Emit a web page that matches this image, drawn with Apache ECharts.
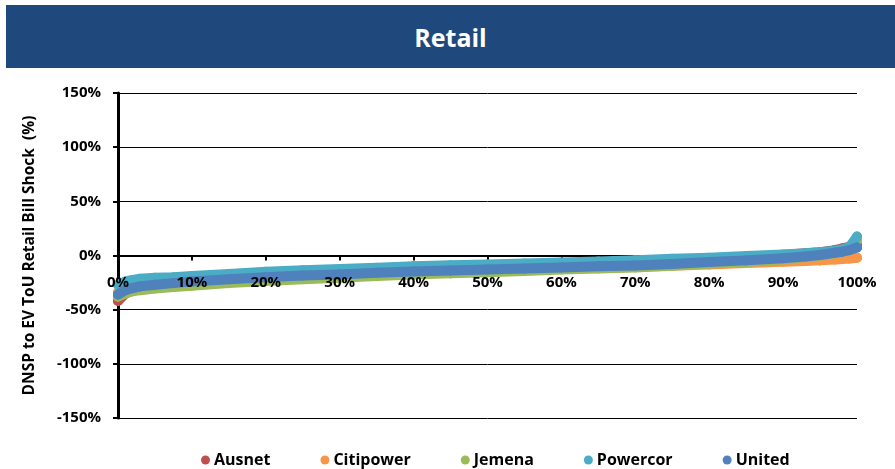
<!DOCTYPE html>
<html>
<head>
<meta charset="utf-8">
<script src="https://cdn.jsdelivr.net/npm/echarts@6/dist/echarts.min.js"></script>
<style>
  html, body { margin: 0; padding: 0; background: #ffffff; }
  #banner {
    position: absolute; left: 6px; top: 5px; width: 889px; height: 63px;
    background: #1f497d; color: #ffffff;
    font: bold 25px "Open Sans", sans-serif;
    display: flex; align-items: center; justify-content: center;
  }
  #chart { position: absolute; left: 0; top: 0; width: 895px; height: 469px; }
</style>
</head>
<body>
<div id="chart"></div>
<div id="banner">Retail</div>
<script>
// percentile of customers (x) and bill shock in % (y)
const pct = [0, 1, 2, 3, 5, 7.5, 10, 15, 20, 25, 30, 35, 40, 45, 50, 55, 60, 65, 70, 75, 80, 85, 90, 93, 95, 97, 98, 99, 100];

const ausnet = [-42, -35, -32, -30, -28, -26.5, -25, -23, -21, -19.5, -18, -16.5, -15.5, -14.5, -13.5, -12.5, -11.5, -10.5, -9, -7, -4.5, -2, 0.5, 2, 3, 5, 6.5, 8, 10];
const citipower = [-34, -31, -29.5, -28.5, -27, -26, -25, -23, -21.5, -20, -19, -17.5, -16, -15, -14, -13, -12, -11, -10.5, -9.5, -8.3, -7, -5.8, -5, -4.5, -3.8, -3.3, -2.7, -2];
const jemena = [-38, -35, -33, -32, -30.5, -29, -28, -25.5, -23.5, -22, -20.5, -19, -17.5, -16.5, -15.5, -14.2, -13, -12, -11, -9.5, -7.5, -6, -3.5, -1.5, 0, 2, 3.5, 7, 13.5];
const powercor = [-27, -24, -22.5, -21.5, -20.5, -20, -19, -17, -15, -13.5, -12.5, -11.2, -10, -9, -8.2, -7.3, -6.5, -5.5, -4.3, -3, -2, -0.5, 1, 2, 3, 4.5, 5.5, 8, 17.5];
const united = [-36, -32, -30, -28.5, -27, -25.5, -24, -22, -20, -18.5, -17.5, -16, -14.7, -13.8, -13, -12, -11, -10, -9.2, -7.8, -6, -4.5, -2.5, -1, 0.5, 2.5, 3.5, 5, 7.4];

const xTicks = { min: 0, max: 100, interval: 10 };
const yTicks = { min: -150, max: 150, interval: 50 };

const names = ["Ausnet", "Citipower", "Jemena", "Powercor", "United"];
const values = [ausnet, citipower, jemena, powercor, united];
const colors = ["#c0504d", "#f79646", "#9bbb59", "#4bacc6", "#4f81bd"];

const font = "Open Sans";
const gridTop = 93;
const gridBottom = 418;
// the x axis sits on the 0% line, halfway down the plot
const zeroOffset = -(gridBottom - gridTop) * (yTicks.max / (yTicks.max - yTicks.min));

const labelStyle = {
  formatter: "{value}%",
  color: "#000",
  fontFamily: font,
  fontWeight: "bold",
  fontSize: 15,
};

const chart = echarts.init(document.getElementById("chart"));

chart.setOption({
  animation: false,
  grid: { left: 118, right: 38, top: gridTop, bottom: 469 - gridBottom },
  legend: {
    top: 447,
    left: 196,
    itemGap: 50,
    itemWidth: 9,
    itemHeight: 9,
    icon: "circle",
    textStyle: { fontFamily: font, fontWeight: "bold", fontSize: 16, color: "#000", padding: [0, 0, 0, -1] },
    data: names,
  },
  xAxis: [
    {
      // axis line and ticks, under the series
      type: "value",
      position: "bottom",
      min: xTicks.min,
      max: xTicks.max,
      interval: xTicks.interval,
      offset: zeroOffset,
      axisLine: { onZero: false, lineStyle: { color: "#000", width: 2 } },
      axisTick: { show: true, length: 5, lineStyle: { color: "#000", width: 2 } },
      splitLine: { show: false },
      axisLabel: { show: false },
    },
    {
      // labels only, drawn on top of the series
      type: "value",
      position: "bottom",
      min: xTicks.min,
      max: xTicks.max,
      interval: xTicks.interval,
      offset: zeroOffset,
      z: 20,
      axisLine: { show: false, onZero: false },
      axisTick: { show: false },
      splitLine: { show: false },
      axisLabel: Object.assign({ margin: 20 }, labelStyle),
    },
  ],
  yAxis: {
    type: "value",
    min: yTicks.min,
    max: yTicks.max,
    interval: yTicks.interval,
    name: "DNSP to EV ToU Retail Bill Shock  (%)",
    nameLocation: "middle",
    nameGap: 80,
    nameTextStyle: { fontFamily: font, fontWeight: "bold", fontSize: 15.5, color: "#000" },
    axisLine: { show: true, lineStyle: { color: "#000", width: 3 } },
    axisTick: { show: true, length: 5, lineStyle: { color: "#000", width: 2 } },
    splitLine: { show: true, lineStyle: { color: "#000", width: 1 } },
    axisLabel: Object.assign({ margin: 17 }, labelStyle),
  },
  series: names.map((name, i) => ({
    name,
    type: "line",
    xAxisIndex: 0,
    data: pct.map((p, j) => [p, values[i][j]]),
    symbol: "circle",
    symbolSize: 10,
    showSymbol: true,
    itemStyle: { color: colors[i] },
    lineStyle: { color: colors[i], width: 10, cap: "round", join: "round" },
    z: 3 + i,
  })),
});
</script>
</body>
</html>
